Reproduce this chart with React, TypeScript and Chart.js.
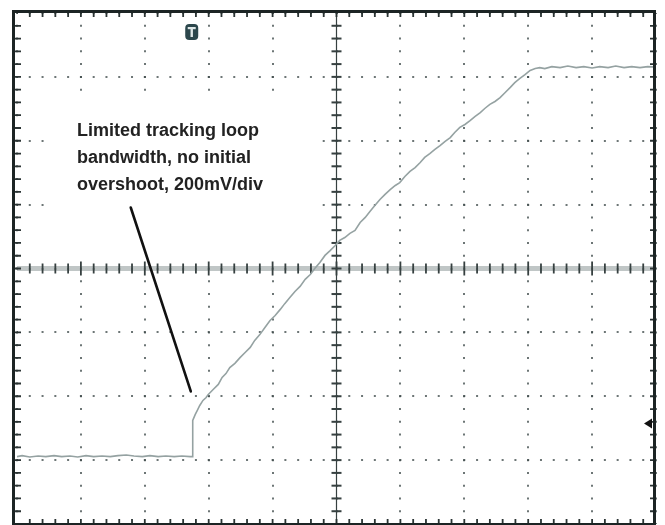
import { useEffect, useRef } from "react";
import { Chart, registerables } from "chart.js";

Chart.register(...registerables);

// Screen is 10 horizontal divisions by 8 vertical divisions at 200 mV/div.
const timeMinDiv = 0;
const timeMaxDiv = 10;
const voltMinMv = -800;
const voltMaxMv = 800;
const voltStepMv = 200;

// Captured output trace: time in divisions, voltage in mV.
const traceTime = [
  0, 0.08, 0.2, 0.33, 0.45, 0.58, 0.7, 0.83, 0.95, 1.08, 1.2, 1.33, 1.46, 1.58, 1.71,
  1.83, 1.96, 2.08, 2.21, 2.33, 2.46, 2.58, 2.71, 2.75,
  2.75, 2.79, 2.82, 2.86, 2.91, 2.96, 2.99,
  3.07, 3.15, 3.21, 3.27, 3.33, 3.41, 3.49, 3.57, 3.65, 3.72, 3.8, 3.88, 3.96, 4.04,
  4.12, 4.19, 4.27, 4.35, 4.43, 4.51, 4.59, 4.66, 4.74, 4.82, 4.9, 4.98, 5.05, 5.13,
  5.21, 5.29, 5.37, 5.45, 5.52, 5.6, 5.68, 5.76, 5.84, 5.92, 5.99, 6.07, 6.15, 6.23,
  6.31, 6.38, 6.46, 6.54, 6.62, 6.7, 6.78, 6.85, 6.93, 7.01, 7.09, 7.17, 7.25, 7.32,
  7.4, 7.48, 7.56, 7.64, 7.72, 7.79, 7.87, 7.95, 8.03, 8.11, 8.18,
  8.26, 8.37, 8.5, 8.62, 8.75, 8.87, 9.0, 9.12, 9.25, 9.37, 9.5, 9.62, 9.75, 9.87, 10.0,
];
const traceMv = [
  -589, -586, -590, -587, -589, -586, -589, -587, -590, -586, -589, -587, -589, -586, -584,
  -587, -589, -586, -589, -587, -589, -587, -589, -589,
  -476, -457, -445, -429, -413, -404, -395,
  -379, -363, -341, -329, -310, -297, -279, -263, -247, -225, -207, -185, -163, -147,
  -128, -110, -91, -72, -56, -34, -19, 0, 19, 41, 56, 72, 88, 97,
  110, 119, 144, 160, 178, 197, 216, 232, 247, 260, 269, 288, 304, 316,
  332, 348, 360, 373, 385, 398, 410, 426, 442, 451, 463, 476, 488, 501,
  514, 523, 535, 551, 567, 582, 595, 607, 620, 626, 629,
  626, 632, 629, 634, 629, 632, 628, 632, 629, 634, 629, 632, 629, 632, 631,
];

// Scope markers.
const triggerTimeDiv = 2.75;
const triggerLevelMv = -485;

// Callout text.
const noteLines = ["Limited tracking loop", "bandwidth, no initial", "overshoot, 200mV/div"];

const MINOR_PER_DIV = 5;

const scopeDecor = {
  id: "scopeDecor",
  beforeDraw(chart: any) {
    const { ctx, width, height } = chart;
    ctx.save();
    ctx.fillStyle = "#ffffff";
    ctx.fillRect(0, 0, width, height);
    ctx.restore();
  },
  beforeDatasetsDraw(chart: any) {
    const { ctx, chartArea } = chart;
    const xs = chart.scales.x;
    const ys = chart.scales.y;
    const { left, right, top, bottom } = chartArea;
    ctx.save();

    // blank panel behind the callout text
    ctx.fillStyle = "#ffffff";
    const bx0 = xs.getPixelForValue(0.47);
    const bx1 = xs.getPixelForValue(4.77);
    const by0 = ys.getPixelForValue(545);
    const by1 = ys.getPixelForValue(22);
    ctx.fillRect(bx0, by0, bx1 - bx0, by1 - by0);

    // centre horizontal axis: grey band with tick marks
    const yc = ys.getPixelForValue(0);
    ctx.strokeStyle = "rgba(150,160,160,0.6)";
    ctx.lineWidth = 5;
    ctx.beginPath();
    ctx.moveTo(left, yc);
    ctx.lineTo(right, yc);
    ctx.stroke();
    ctx.strokeStyle = "#364040";
    ctx.lineWidth = 1.8;
    const nx = (timeMaxDiv - timeMinDiv) * MINOR_PER_DIV;
    for (let i = 1; i < nx; i++) {
      const px = xs.getPixelForValue(timeMinDiv + i / MINOR_PER_DIV);
      const h = i % MINOR_PER_DIV === 0 ? 7 : 5;
      ctx.beginPath();
      ctx.moveTo(px, yc - h);
      ctx.lineTo(px, yc + h);
      ctx.stroke();
    }

    // centre vertical axis with tick marks
    const xc = xs.getPixelForValue((timeMinDiv + timeMaxDiv) / 2);
    ctx.lineWidth = 1.2;
    ctx.beginPath();
    ctx.moveTo(xc, top);
    ctx.lineTo(xc, bottom);
    ctx.stroke();
    ctx.lineWidth = 2;
    const ny = ((voltMaxMv - voltMinMv) / voltStepMv) * MINOR_PER_DIV;
    for (let i = 1; i < ny; i++) {
      const py = ys.getPixelForValue(voltMinMv + (i * voltStepMv) / MINOR_PER_DIV);
      ctx.beginPath();
      ctx.moveTo(xc - 5, py);
      ctx.lineTo(xc + 5, py);
      ctx.stroke();
    }

    // minor ticks along the graticule edges
    ctx.lineWidth = 1.8;
    ctx.strokeStyle = "#2a3333";
    for (let i = 1; i < nx; i++) {
      const px = xs.getPixelForValue(timeMinDiv + i / MINOR_PER_DIV);
      ctx.beginPath();
      ctx.moveTo(px, top - 1);
      ctx.lineTo(px, top + 4);
      ctx.moveTo(px, bottom);
      ctx.lineTo(px, bottom - 5);
      ctx.stroke();
    }
    for (let i = 1; i < ny; i++) {
      const py = ys.getPixelForValue(voltMinMv + (i * voltStepMv) / MINOR_PER_DIV);
      ctx.beginPath();
      ctx.moveTo(left - 3, py);
      ctx.lineTo(left + 4, py);
      ctx.moveTo(right, py);
      ctx.lineTo(right - 6, py);
      ctx.stroke();
    }
    ctx.restore();
  },
  afterDatasetsDraw(chart: any) {
    const { ctx, chartArea } = chart;
    const xs = chart.scales.x;
    const ys = chart.scales.y;
    const { left, right, top, bottom } = chartArea;
    ctx.save();

    // callout text
    ctx.fillStyle = "#222222";
    ctx.font = "bold 18px 'Liberation Sans', Arial, sans-serif";
    ctx.textBaseline = "alphabetic";
    ctx.textAlign = "left";
    const tx = xs.getPixelForValue(0.94);
    noteLines.forEach((line, i) => {
      ctx.fillText(line, tx, ys.getPixelForValue(414 - i * 84));
    });

    // pointer from callout to the start of the ramp
    ctx.strokeStyle = "#111111";
    ctx.lineWidth = 2.6;
    ctx.lineCap = "round";
    ctx.beginPath();
    ctx.moveTo(xs.getPixelForValue(1.78), ys.getPixelForValue(191));
    ctx.lineTo(xs.getPixelForValue(2.72), ys.getPixelForValue(-385));
    ctx.stroke();

    // trigger position marker
    const tpx = xs.getPixelForValue(triggerTimeDiv) - 1;
    const mw = 13;
    const mh = 16;
    const my = top + 11;
    ctx.fillStyle = "#2c474c";
    ctx.beginPath();
    ctx.roundRect(tpx - mw / 2, my, mw, mh, 4);
    ctx.fill();
    ctx.fillStyle = "#dfe8e8";
    ctx.fillRect(tpx - 4, my + 3, 8, 2.2);
    ctx.fillRect(tpx - 1.2, my + 3, 2.4, 10);

    // trigger level marker on the right edge
    const ly = ys.getPixelForValue(triggerLevelMv);
    ctx.fillStyle = "#111111";
    ctx.beginPath();
    ctx.moveTo(right - 12, ly);
    ctx.lineTo(right - 4, ly - 5);
    ctx.lineTo(right - 4, ly + 5);
    ctx.closePath();
    ctx.fill();

    // graticule frame, drawn just outside the left and top grid edges
    ctx.strokeStyle = "#1c2424";
    ctx.lineWidth = 3;
    ctx.strokeRect(left - 3.5, top - 1.5, right - 1.5 - (left - 3.5), bottom + 0.5 - (top - 1.5));
    ctx.restore();
  },
};

export default function App() {
  const canvasRef = useRef<HTMLCanvasElement | null>(null);

  useEffect(() => {
    const canvas = canvasRef.current;
    if (!canvas) return;
    const points = traceTime.map((t, i) => ({ x: t, y: traceMv[i] }));
    const chart = new Chart(canvas, {
      type: "line",
      data: {
        datasets: [
          {
            label: "Output",
            data: points,
            borderColor: "#95a2a2",
            borderWidth: 1.6,
            pointRadius: 0,
            tension: 0,
            fill: false,
          },
        ],
      },
      options: {
        animation: false,
        responsive: false,
        devicePixelRatio: 1,
        layout: { padding: { left: 17, top: 13, right: 9, bottom: 1 } },
        plugins: {
          legend: { display: false },
          tooltip: { enabled: false },
          title: { display: false },
        },
        scales: {
          x: {
            type: "linear",
            min: timeMinDiv,
            max: timeMaxDiv,
            ticks: { display: false, stepSize: 1 },
            grid: { drawTicks: false, color: "rgba(60,72,72,0.75)", lineWidth: 2 },
            border: { display: false, dash: [2, 10.775], dashOffset: 1 },
          },
          y: {
            type: "linear",
            min: voltMinMv,
            max: voltMaxMv,
            ticks: { display: false, stepSize: voltStepMv },
            grid: { drawTicks: false, color: "rgba(60,72,72,0.75)", lineWidth: 2 },
            border: { display: false, dash: [2, 10.78], dashOffset: 1 },
          },
        },
      },
      plugins: [scopeDecor],
    });
    return () => chart.destroy();
  }, []);

  return (
    <div style={{ position: "fixed", left: 0, top: 0, width: 665, height: 525, background: "#fff" }}>
      <canvas ref={canvasRef} width={665} height={525} style={{ display: "block" }} />
    </div>
  );
}
